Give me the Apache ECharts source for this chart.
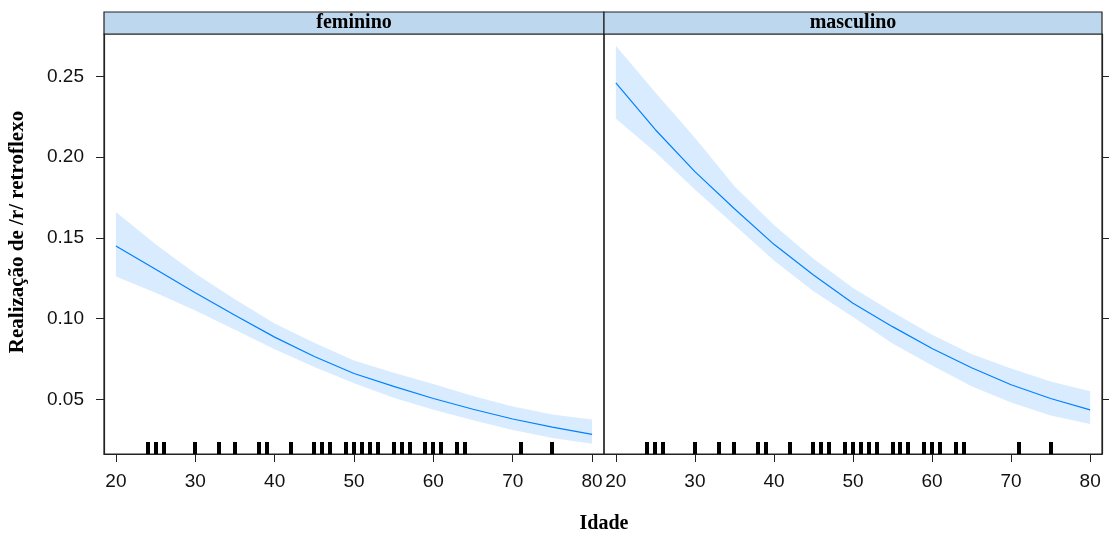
<!DOCTYPE html>
<html>
<head>
<meta charset="utf-8">
<script src="https://cdn.jsdelivr.net/npm/echarts@6/dist/echarts.min.js"></script>
<style>
  html, body { margin: 0; padding: 0; background: #fff; }
  #chart { width: 1109px; height: 537px; }
</style>
</head>
<body>
<div id="chart"></div>
<script>
// values
const panels = ["feminino", "masculino"];
const ages = [20, 25, 30, 35, 40, 45, 50, 55, 60, 65, 70, 75, 80];

const femFit = [0.145, 0.1305, 0.116, 0.102, 0.0885, 0.0765, 0.066, 0.058, 0.0505, 0.0438, 0.0378, 0.0328, 0.0283];
const femUpper = [0.166, 0.146, 0.128, 0.112, 0.097, 0.085, 0.074, 0.0665, 0.0595, 0.052, 0.0455, 0.0405, 0.0375];
const femLower = [0.126, 0.116, 0.105, 0.093, 0.081, 0.070, 0.060, 0.051, 0.0435, 0.037, 0.031, 0.026, 0.0225];

const mascFit = [0.246, 0.217, 0.191, 0.168, 0.146, 0.127, 0.1095, 0.095, 0.0815, 0.0695, 0.059, 0.0505, 0.0434];
const mascUpper = [0.269, 0.240, 0.212, 0.182, 0.158, 0.137, 0.119, 0.104, 0.090, 0.078, 0.069, 0.061, 0.055];
const mascLower = [0.224, 0.203, 0.180, 0.158, 0.136, 0.117, 0.101, 0.0845, 0.071, 0.058, 0.048, 0.040, 0.0347];

// rug: observed ages
const rugAges = [24, 25, 26, 30, 33, 35, 38, 39, 42, 45, 46, 47, 49, 50, 51, 52, 53, 55, 56, 57, 59, 60, 61, 63, 64, 71, 75];

const xTicks = [20, 30, 40, 50, 60, 70, 80];
const yTicks = [0.05, 0.10, 0.15, 0.20, 0.25];

const X_MIN = 18.5, X_MAX = 81.5;
const Y_MIN = 0.0161, Y_MAX = 0.2763;

const lineColor = "#0080ff";
const bandColor = "#d9ecff";
const tickFont = { fontFamily: "Liberation Sans, Arial, sans-serif", fontSize: 19, color: "#111" };
const serifBold = { fontFamily: "Liberation Serif, Times New Roman, serif", fontWeight: "bold", fontSize: 20, fill: "#000" };

const chart = echarts.init(document.getElementById("chart"));

function bandSeries(idx, lower, upper) {
  return {
    type: "custom",
    xAxisIndex: idx,
    yAxisIndex: idx,
    silent: true,
    z: 1,
    data: ages.map((a, i) => [a, lower[i], upper[i]]),
    renderItem: function (params, api) {
      if (params.dataIndex !== 0) return null;
      const pts = [];
      for (let i = 0; i < ages.length; i++) pts.push(api.coord([ages[i], upper[i]]));
      for (let i = ages.length - 1; i >= 0; i--) pts.push(api.coord([ages[i], lower[i]]));
      return { type: "polygon", shape: { points: pts }, style: { fill: bandColor } };
    }
  };
}

function fitSeries(idx, fit) {
  return {
    type: "line",
    xAxisIndex: idx,
    yAxisIndex: idx,
    data: ages.map((a, i) => [a, fit[i]]),
    showSymbol: false,
    smooth: false,
    lineStyle: { color: lineColor, width: 1.2 },
    silent: true,
    z: 3
  };
}

function rugSeries(idx) {
  return {
    type: "custom",
    xAxisIndex: idx,
    yAxisIndex: idx,
    silent: true,
    z: 4,
    data: rugAges.map((a) => [a, Y_MIN]),
    renderItem: function (params, api) {
      const p = api.coord([api.value(0), api.value(1)]);
      return { type: "rect", shape: { x: Math.round(p[0] - 2), y: p[1] - 12, width: 4, height: 12 }, style: { fill: "#000" } };
    }
  };
}

const grids = [
  { left: 104, top: 34, width: 500, height: 420 },
  { left: 604, top: 34, width: 498, height: 420 }
];

const option = {
  animation: false,
  backgroundColor: "#fff",
  grid: grids.map((g) => Object.assign({ show: true, borderColor: "#222", borderWidth: 1.2, backgroundColor: "transparent" }, g)),
  xAxis: grids.map((g, i) => ({
    type: "value",
    gridIndex: i,
    min: X_MIN,
    max: X_MAX,
    splitLine: { show: false },
    axisLine: { show: true, onZero: false, lineStyle: { color: "#222", width: 1.2 } },
    axisTick: { show: true, customValues: xTicks, length: 8, lineStyle: { color: "#222" } },
    axisLabel: Object.assign({ customValues: xTicks, margin: 18, showMinLabel: true, showMaxLabel: true }, tickFont)
  })),
  yAxis: grids.map((g, i) => ({
    type: "value",
    gridIndex: i,
    position: i === 0 ? "left" : "right",
    min: Y_MIN,
    max: Y_MAX,
    splitLine: { show: false },
    axisLine: { show: true, onZero: false, lineStyle: { color: "#222", width: 1.2 } },
    axisTick: { show: true, customValues: yTicks, length: 8, lineStyle: { color: "#222" } },
    axisLabel: Object.assign({ show: i === 0, customValues: yTicks, margin: 20, formatter: (v) => v.toFixed(2) }, tickFont)
  })),
  graphic: [
    ...grids.map((g, i) => ({
      type: "group",
      children: [
        { type: "rect", shape: { x: g.left, y: 12, width: g.width, height: 22 }, style: { fill: "#bdd7ee", stroke: "#222", lineWidth: 1.2 } },
        { type: "text", x: g.left + g.width / 2, y: 23, style: Object.assign({ text: panels[i], textAlign: "center", textVerticalAlign: "middle" }, serifBold) }
      ]
    })),
    { type: "text", x: 604, y: 524, style: Object.assign({ text: "Idade", textAlign: "center", textVerticalAlign: "middle" }, serifBold) },
    { type: "text", x: 18, y: 232, rotation: Math.PI / 2, style: Object.assign({ text: "Realização de /r/ retroflexo", textAlign: "center", textVerticalAlign: "middle" }, serifBold, { fontSize: 21 }) }
  ],
  series: [
    bandSeries(0, femLower, femUpper),
    bandSeries(1, mascLower, mascUpper),
    fitSeries(0, femFit),
    fitSeries(1, mascFit),
    rugSeries(0),
    rugSeries(1)
  ]
};

chart.setOption(option);
</script>
</body>
</html>
